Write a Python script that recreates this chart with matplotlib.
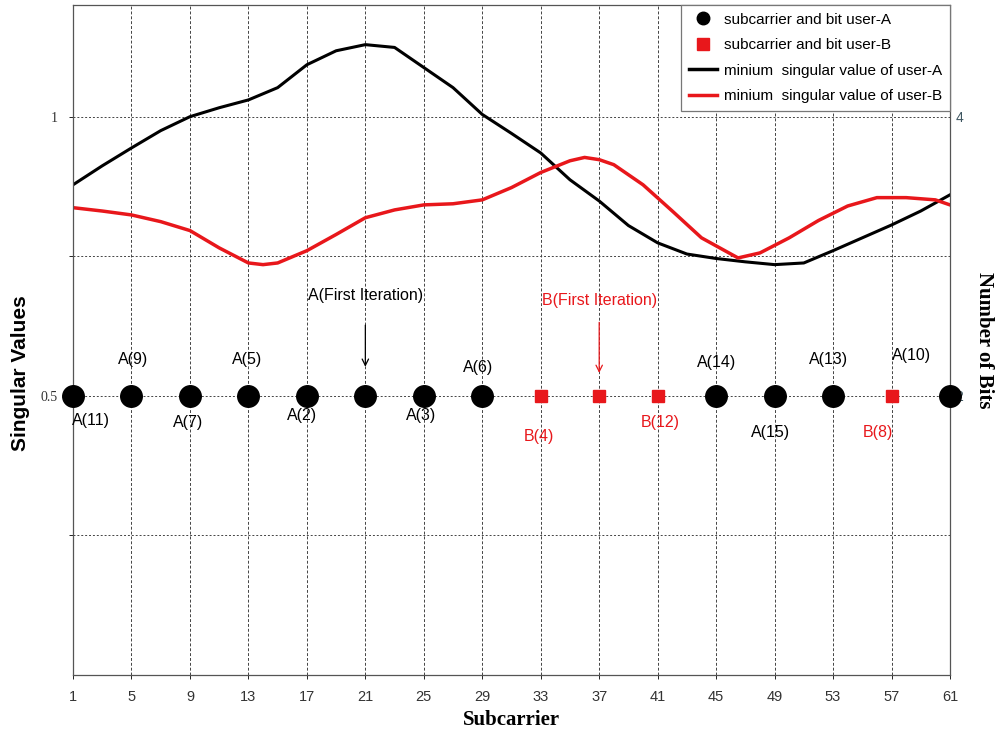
import matplotlib.pyplot as plt
import numpy as np
from matplotlib.lines import Line2D

plt.rcParams["font.family"] = ["Liberation Sans Narrow", "Liberation Sans", "DejaVu Sans"]

# minimum singular value curves (left axis)
x_a = [1, 3, 5, 7, 9, 11, 13, 15, 17, 19, 21, 23, 25, 27, 29, 31, 33, 35, 37, 39, 41, 43, 45,
       47, 49, 51, 53, 55, 57, 59, 61]
sv_a = [0.878, 0.912, 0.944, 0.975, 1.0, 1.016, 1.03, 1.052, 1.093, 1.118, 1.129, 1.124, 1.088,
        1.052, 1.004, 0.97, 0.935, 0.887, 0.849, 0.805, 0.774, 0.754, 0.746, 0.74, 0.735, 0.738,
        0.76, 0.783, 0.806, 0.831, 0.86]
x_b = [1, 3, 5, 7, 9, 11, 13, 14, 15, 17, 19, 21, 23, 25, 27, 29, 31, 33, 35, 36, 37, 38, 40,
       42, 44, 46.5, 48, 50, 52, 54, 56, 58, 60, 61]
sv_b = [0.837, 0.831, 0.824, 0.812, 0.796, 0.765, 0.738, 0.735, 0.738, 0.76, 0.789, 0.819, 0.833,
        0.842, 0.844, 0.851, 0.873, 0.9, 0.921, 0.927, 0.923, 0.914, 0.878, 0.831, 0.783, 0.747,
        0.756, 0.783, 0.814, 0.84, 0.855, 0.855, 0.851, 0.842]

# subcarrier allocation (right axis, bits)
sub_a = [1, 5, 9, 13, 17, 21, 25, 29, 45, 49, 53, 61]
bits_a = [2, 2, 2, 2, 2, 2, 2, 2, 2, 2, 2, 2]
sub_b = [33, 37, 41, 57]
bits_b = [2, 2, 2, 2]

red = "#e8171b"

# (text, x, y, color) for point annotations, y on the left axis
labels = [("A(11)", 2.2, 0.455, "k"), ("A(9)", 5.1, 0.565, "k"), ("A(7)", 8.9, 0.453, "k"),
          ("A(5)", 12.9, 0.565, "k"), ("A(2)", 16.7, 0.464, "k"), ("A(3)", 24.8, 0.464, "k"),
          ("A(6)", 28.7, 0.55, "k"), ("B(4)", 32.9, 0.428, red), ("B(12)", 41.2, 0.452, red),
          ("A(14)", 45.0, 0.559, "k"), ("A(15)", 48.7, 0.434, "k"), ("A(13)", 52.7, 0.565, "k"),
          ("B(8)", 56.1, 0.434, red), ("A(10)", 58.4, 0.573, "k")]

xticks = np.arange(1, 62, 4)

fig = plt.figure(figsize=(10.06, 7.35), dpi=100)
ax = fig.add_axes([0.0726, 0.0816, 0.8717, 0.9116])
ax2 = ax.twinx()

ax.set_xlim(1, 61)
ax.set_ylim(0, 1.2)
ax2.set_ylim(0, 4.8)

ax.set_xticks(xticks)
ax.set_xticklabels([str(t) for t in xticks], fontsize=10.5, color="#333333")
ax.set_yticks([0.25, 0.5, 0.75, 1.0])
ax.set_yticklabels(["", "0.5", "", "1"], fontsize=10, color="#333333", family="Liberation Serif")
ax2.set_yticks([2, 4])
ax2.set_yticklabels(["2", "4"], fontsize=10, color="#3d5560")
ax.tick_params(length=3, width=0.6, pad=8)
ax2.tick_params(length=0, pad=4)

ax.grid(axis="x", linestyle=(0, (3, 2)), color="#444444", linewidth=0.7)
ax.grid(axis="y", linestyle=(0, (2, 2)), color="#444444", linewidth=0.7)
for side in ["left", "right", "top", "bottom"]:
    ax.spines[side].set_color("#555555")
    ax.spines[side].set_linewidth(0.9)
    ax2.spines[side].set_visible(False)

ax.plot(x_a, sv_a, color="k", linewidth=2.2, solid_joinstyle="round")
ax.plot(x_b, sv_b, color=red, linewidth=2.5, solid_joinstyle="round")
ax2.plot(sub_a, bits_a, "o", color="k", markersize=15.5, linestyle="none", clip_on=False)
ax2.plot(sub_b, bits_b, "s", color=red, markersize=8, linestyle="none")

for txt, lx, ly, c in labels:
    ax.text(lx, ly, txt, color=c, fontsize=11.5, ha="center", va="center")

ax.annotate("A(First Iteration)", xy=(21, 0.547), xytext=(21, 0.68), fontsize=11.5,
            ha="center", va="center", color="k",
            arrowprops=dict(arrowstyle="->", color="k", lw=0.9, shrinkA=14))
ax.annotate("B(First Iteration)", xy=(37, 0.536), xytext=(37, 0.67), fontsize=11.5,
            ha="center", va="center", color=red,
            arrowprops=dict(arrowstyle="->", color=red, lw=0.9, shrinkA=8))

ax.set_xlabel("Subcarrier", family="Liberation Serif", fontweight="bold", fontsize=15, labelpad=4)
ax.set_ylabel("Singular Values", family="Liberation Sans", fontweight="bold", fontsize=15)
ax2.set_ylabel("Number of Bits", family="Liberation Serif", fontweight="bold", fontsize=15,
               rotation=-90)
ax2.yaxis.set_label_coords(1.05, 0.5)
ax.yaxis.set_label_coords(-0.049, 0.45)

handles = [
    Line2D([], [], marker="o", color="k", markersize=9, linestyle="none"),
    Line2D([], [], marker="s", color=red, markersize=9, linestyle="none"),
    Line2D([], [], color="k", linewidth=2.5),
    Line2D([], [], color=red, linewidth=2.5),
]
names = ["subcarrier and bit user-A", "subcarrier and bit user-B",
         "minium  singular value of user-A", "minium  singular value of user-B"]
leg = ax2.legend(handles, names, loc="upper right", bbox_to_anchor=(1.0, 1.0),
                 fontsize=11, fancybox=False, framealpha=1, edgecolor="#777777",
                 borderaxespad=0, handlelength=1.8, handletextpad=0.5, labelspacing=0.75,
                 borderpad=0.5)
leg.get_frame().set_linewidth(0.9)

fig.savefig("out.png", dpi=100)
